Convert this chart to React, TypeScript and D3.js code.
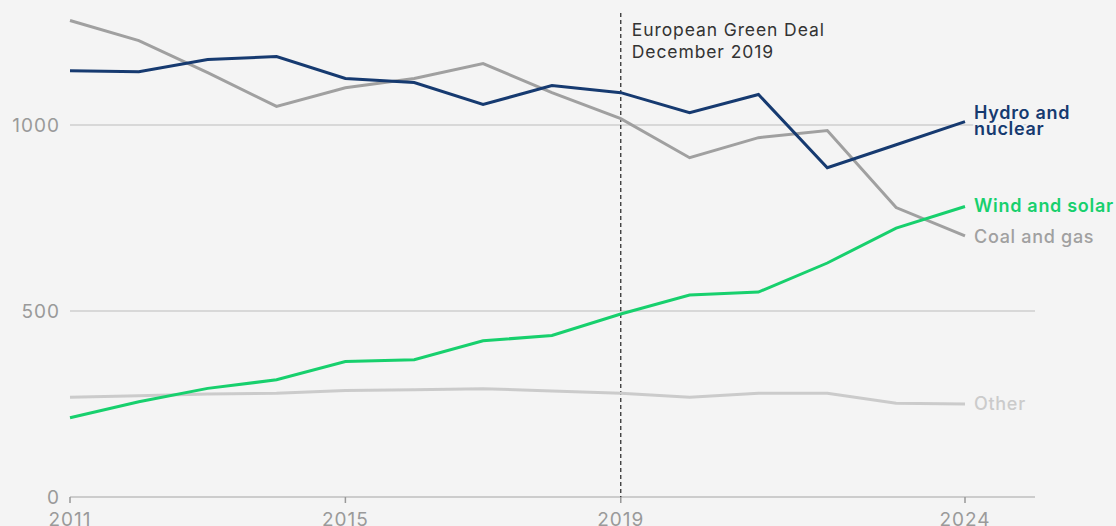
import React from "react";
import * as d3 from "d3";

const years = [2011, 2012, 2013, 2014, 2015, 2016, 2017, 2018, 2019, 2020, 2021, 2022, 2023, 2024];
const coalGas = [1281, 1227, 1141, 1050, 1100, 1125, 1165, 1087, 1017, 912, 966, 985, 778, 702];
const hydroNuclear = [1146, 1143, 1176, 1184, 1125, 1114, 1055, 1106, 1087, 1033, 1082, 885, 947, 1009];
const windSolar = [213, 256, 292, 315, 364, 369, 420, 434, 492, 543, 551, 629, 723, 781];
const other = [268, 272, 277, 279, 286, 288, 291, 285, 279, 268, 279, 279, 252, 250];
const yTicks = [0, 500, 1000];
const xTicks = [2011, 2015, 2019, 2024];

const W = 1116;
const H = 526;
const BG = "#f4f4f4";
const FONT = "Inter, 'Noto Sans', sans-serif";

const x = d3.scaleLinear().domain([2011, 2024]).range([70, 965]);
const y = d3.scaleLinear().domain([0, 1000]).range([497, 125]);

type S = { name: string[]; values: number[]; color: string; width: number; weight: number; labelDy: number };
const series: S[] = [
  { name: ["Other"], values: other, color: "#cbcbcb", width: 3, weight: 500, labelDy: 6 },
  { name: ["Coal and gas"], values: coalGas, color: "#a0a0a0", width: 3, weight: 500, labelDy: 7 },
  { name: ["Wind and solar"], values: windSolar, color: "#17d06d", width: 3, weight: 600, labelDy: 6 },
  { name: ["Hydro and", "nuclear"], values: hydroNuclear, color: "#163a70", width: 3, weight: 600, labelDy: -3 },
];

const line = d3
  .line<number>()
  .x((_, i) => x(years[i]))
  .y((d) => y(d));

export default function App() {
  return (
    <div style={{ position: "absolute", left: 0, top: 0, width: W, height: H, background: BG }}>
      <svg width={W} height={H} style={{ display: "block", fontFamily: FONT }}>
        <rect x={0} y={0} width={W} height={H} fill={BG} />
        {yTicks.filter((t) => t > 0).map((t) => (
          <line key={t} x1={70} x2={1035} y1={y(t)} y2={y(t)} stroke="#cfcfcf" strokeWidth={1.5} />
        ))}
        <line x1={70} x2={1035} y1={y(0)} y2={y(0)} stroke="#cccccc" strokeWidth={2} />
        {xTicks.map((t) => (
          <g key={t}>
            <line x1={x(t)} x2={x(t)} y1={y(0)} y2={y(0) + 6} stroke="#999" strokeWidth={1.5} />
            <text x={x(t)} y={526} textAnchor="middle" fontSize={19} letterSpacing={1} fill="#9a9a9a">
              {t}
            </text>
          </g>
        ))}
        {yTicks.map((t) => (
          <text key={t} x={60} y={y(t) + 6.5} textAnchor="end" fontSize={19} letterSpacing={1} fill="#9a9a9a">
            {t}
          </text>
        ))}
        <line
          x1={x(2019)}
          x2={x(2019)}
          y1={13}
          y2={y(0)}
          stroke="#222"
          strokeWidth={1.2}
          strokeDasharray="4 3"
        />
        <text x={x(2019) + 11} y={36} fontSize={17.5} letterSpacing={0.9} fill="#333" fontWeight={400}>
          European Green Deal
        </text>
        <text x={x(2019) + 11} y={58} fontSize={17.5} letterSpacing={0.9} fill="#333" fontWeight={400}>
          December 2019
        </text>
        {series.map((s) => (
          <path
            key={s.name.join(" ")}
            d={line(s.values) || ""}
            fill="none"
            stroke={s.color}
            strokeWidth={s.width}
            strokeLinejoin="miter"
          />
        ))}
        {series.map((s) => {
          const last = s.values[s.values.length - 1];
          const ly = y(last) + s.labelDy;
          return (
            <text
              key={"l" + s.name.join(" ")}
              x={974}
              y={ly}
              fontSize={18}
              fill={s.color}
              fontWeight={s.weight}
              stroke={BG}
              strokeWidth={4}
              paintOrder="stroke"
              letterSpacing={0.7}
            >
              {s.name.map((n, i) => (
                <tspan key={n} x={974} dy={i === 0 ? 0 : 16}>
                  {n}
                </tspan>
              ))}
            </text>
          );
        })}
      </svg>
    </div>
  );
}
